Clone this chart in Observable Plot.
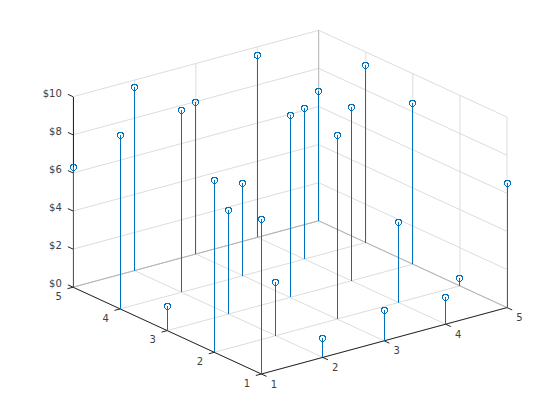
<!DOCTYPE html>
<html>
<head>
<meta charset="utf-8">
<style>html,body{margin:0;padding:0;background:#fff}svg{display:block}</style>
<script src="https://cdn.jsdelivr.net/npm/d3@7"></script>
<script src="https://cdn.jsdelivr.net/npm/@observablehq/plot@0.6"></script>
</head>
<body>
<div id="chart"></div>
<script>
const stemX = [1,1,1,1,1, 2,2,2,2,2, 3,3,3,3,3, 4,4,4,4,4, 5,5,5,5,5];
const stemY = [1,2,3,4,5, 1,2,3,4,5, 1,2,3,4,5, 1,2,3,4,5, 1,2,3,4,5];
const stemZ = [8.12,9.02,1.27,9.11,6.30, 1.00,2.80,5.44,9.55,9.62, 1.60,9.64,9.55,4.85,7.96, 1.41,4.21,9.10,7.91,9.55, 6.52,0.40,8.44,9.30,6.79];
const xTicks = [1,2,3,4,5];
const yTicks = [1,2,3,4,5];
const zTicks = [0,2,4,6,8,10];

// Fixed 3-D view: screen position of a data point (orthographic view)
const project = (x, y, z) => [
  260.85 + 61.42 * (x - 1) - 47.08 * (y - 1),
  373.5 - 16.6 * (x - 1) - 21.7 * (y - 1) - 19.05 * z
];
const seg = (a, b) => {
  const [x1, y1] = project(...a), [x2, y2] = project(...b);
  return {x1, y1, x2, y2};
};
const segLink = (segs, stroke, extra = {}) =>
  Plot.link(segs, {x1: "x1", y1: "y1", x2: "x2", y2: "y2", stroke: () => stroke, strokeWidth: 1, ...extra});

const xMax = 5, yMax = 5, zMax = 10, xMin = 1, yMin = 1;
const gridSegs = [
  ...xTicks.map(x => seg([x, yMin, 0], [x, yMax, 0])),
  ...yTicks.map(y => seg([xMin, y, 0], [xMax, y, 0])),
  ...xTicks.map(x => seg([x, yMax, 0], [x, yMax, zMax])),
  ...yTicks.map(y => seg([xMax, y, 0], [xMax, y, zMax])),
  ...zTicks.flatMap(z => [seg([xMin, yMax, z], [xMax, yMax, z]), seg([xMax, yMax, z], [xMax, yMin, z])])
];
const backEdges = [
  seg([xMin, yMax, 0], [xMax, yMax, 0]),
  seg([xMax, yMax, 0], [xMax, yMin, 0])
];
const backCorner = [seg([xMax, yMax, 0], [xMax, yMax, zMax])];
const axisSegs = [
  seg([xMin, yMin, 0], [xMax, yMin, 0]),
  seg([xMin, yMin, 0], [xMin, yMax, 0]),
  ...xTicks.map(x => seg([x, yMin, 0], [x, yMin - 0.11, 0])),
  ...yTicks.map(y => seg([xMin, y, 0], [xMin - 0.09, y, 0])),
  ...zTicks.map(z => seg([xMin, yMax, z], [xMin, yMax + 0.11, z]))
];
const zAxis = [seg([xMin, yMax, 0], [xMin, yMax, zMax])];
const stems = stemX.map((x, i) => seg([x, stemY[i], 0], [x, stemY[i], stemZ[i]]));
const tips = stemX.map((x, i) => {
  const [px, py] = project(x, stemY[i], stemZ[i]);
  return {px: Math.floor(px + 0.5), py};
});
const labelAt = (text, p, dx, dy) => ({text, px: p[0] + dx, py: p[1] + dy});
const xLabels = xTicks.map(x => labelAt(String(x), project(x, yMin, 0), 12.5, 10.3));
const yLabels = yTicks.map(y => labelAt(String(y), project(xMin, y, 0), -14.4, 9.6));
const zLabels = zTicks.map(z => labelAt("$" + z, project(xMin, yMax, z), -11.2, -3.2));

const textOpts = {x: "px", y: "py", text: "text", fill: "#404040", fontSize: 10,
  fontFamily: "DejaVu Sans", lineAnchor: "middle"};

const chart = Plot.plot({
  width: 560, height: 420,
  marginTop: 0, marginRight: 0, marginBottom: 0, marginLeft: 0,
  style: {background: "#fff"},
  x: {type: "linear", domain: [0, 560], range: [0, 560], axis: null},
  y: {type: "linear", domain: [0, 420], range: [0, 420], axis: null},
  marks: [
    segLink(gridSegs, "#dcdcdc"),
    segLink(backEdges, "#b4b4b4"),
    segLink(backCorner, "#bdbdbd", {shapeRendering: "crispEdges"}),
    segLink(axisSegs, "#262626"),
    segLink(zAxis, "#262626", {shapeRendering: "crispEdges"}),
    segLink(stems, "#0072BD", {shapeRendering: "crispEdges"}),
    Plot.dot(tips, {x: "px", y: "py", r: 3, stroke: "#0072BD", strokeWidth: 1, fill: "none", shapeRendering: "crispEdges"}),
    Plot.text(xLabels, {...textOpts, textAnchor: "middle"}),
    Plot.text(yLabels, {...textOpts, textAnchor: "middle"}),
    Plot.text(zLabels, {...textOpts, textAnchor: "end"})
  ]
});
document.getElementById("chart").append(chart);
</script>
</body>
</html>
